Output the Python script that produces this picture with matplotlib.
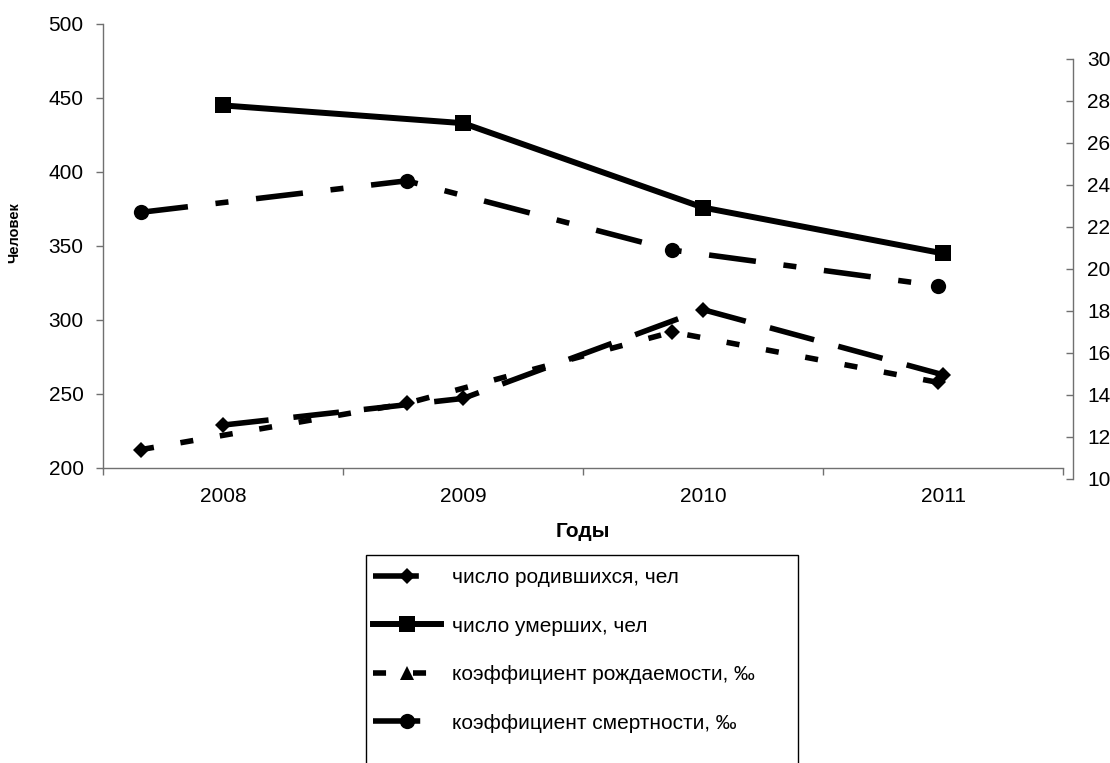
import numpy as np
import matplotlib
matplotlib.use("Agg")
import matplotlib.pyplot as plt
from matplotlib.lines import Line2D
from matplotlib.patches import Rectangle

plt.rcParams['font.family'] = ['Liberation Sans', 'DejaVu Sans']
plt.rcParams['lines.scale_dashes'] = False

# данные
years = ['2008', '2009', '2010', '2011']
births = [229, 247, 307, 263]        # число родившихся, чел
deaths = [445, 433, 376, 345]        # число умерших, чел
birth_rate = [11.4, 13.6, 17.0, 14.6]  # коэффициент рождаемости, ‰
death_rate = [22.7, 24.2, 20.9, 19.2]  # коэффициент смертности, ‰

labels = ['число родившихся, чел', 'число умерших, чел',
          'коэффициент рождаемости, ‰', 'коэффициент смертности, ‰']

W, H = 1110, 763
fig = plt.figure(figsize=(W / 100, H / 100), dpi=100)

def box(x0, y0, x1, y1):
    # пиксели (сверху) -> доли фигуры
    return [x0 / W, 1 - y1 / H, (x1 - x0) / W, (y1 - y0) / H]

axis_col = '#707070'
long_dash = (33, 18)
dash_dot = (34, 20, 9.4, 20)
short_dash = (9.4, 19.4)

# основная ось
ax = fig.add_axes(box(103, 24, 1063, 468))
x = np.arange(len(years))
ax.plot(x, births, color='black', lw=4, dashes=long_dash, marker='D', ms=8, mew=0)
ax.plot(x, deaths, color='black', lw=4.3, marker='s', ms=11, mew=0)
ax.set_xlim(-0.5, len(years) - 0.5)
ax.set_ylim(200, 500)
ax.set_yticks(np.arange(200, 501, 50))
ax.set_xticks(np.arange(-0.5, len(years), 1))
ax.set_xticklabels([])
ax.set_xticks(x, minor=True)
ax.set_xticklabels(years, minor=True)
ax.tick_params(axis='x', which='major', direction='out', length=5, width=1, color=axis_col)
ax.tick_params(axis='x', which='minor', length=0, pad=14, labelsize=15)
ax.tick_params(axis='y', direction='out', length=5, width=1, color=axis_col, pad=9, labelsize=15)
for s in ['top', 'right']:
    ax.spines[s].set_visible(False)
for s in ['left', 'bottom']:
    ax.spines[s].set_color(axis_col)
    ax.spines[s].set_linewidth(1)
ax.set_xlabel('Годы', fontsize=15, fontweight='bold', labelpad=11)
ax.set_ylabel('Человек', fontsize=10.5, fontweight='bold')
ax.yaxis.set_label_coords(-0.085, 0.53)
ax.patch.set_visible(False)

# вспомогательная ось (коэффициенты)
ax2 = fig.add_axes(box(103, 59, 1073, 479))
ax2.plot(x, birth_rate, color='black', lw=4, dashes=short_dash, marker='D', ms=8, mew=0)
ax2.plot(x, death_rate, color='black', lw=4, dashes=dash_dot, marker='o', ms=11, mew=0)
ax2.set_xlim(-0.143, 3.508)
ax2.set_ylim(10, 30)
ax2.set_yticks(np.arange(10, 31, 2))
ax2.set_xticks([])
ax2.yaxis.tick_right()
ax2.tick_params(axis='y', direction='in', length=5, width=1, color=axis_col, pad=10, labelsize=15)
for s in ['top', 'left', 'bottom']:
    ax2.spines[s].set_visible(False)
ax2.spines['right'].set_color(axis_col)
ax2.spines['right'].set_linewidth(1)
ax2.patch.set_visible(False)

# легенда
handles = [
    Line2D([], [], color='black', lw=4, dashes=long_dash, marker='D', ms=8, mew=0),
    Line2D([], [], color='black', lw=4.3, marker='s', ms=11, mew=0),
    Line2D([], [], color='black', lw=4, dashes=short_dash, marker='^', ms=10, mew=0),
    Line2D([], [], color='black', lw=4, dashes=dash_dot, marker='o', ms=11, mew=0),
]
fig.legend(handles, labels, loc='upper left', bbox_to_anchor=(373 / W, 1 - 568 / H),
           frameon=False, fontsize=15, handlelength=3.27, handletextpad=0.53,
           labelspacing=1.42, borderpad=0, borderaxespad=0)
fig.patches.append(Rectangle((366 / W, -0.05), 432 / W, (H - 555) / H + 0.05,
                             transform=fig.transFigure, fill=False,
                             edgecolor='black', linewidth=1))

fig.savefig('out.png', dpi=100)
